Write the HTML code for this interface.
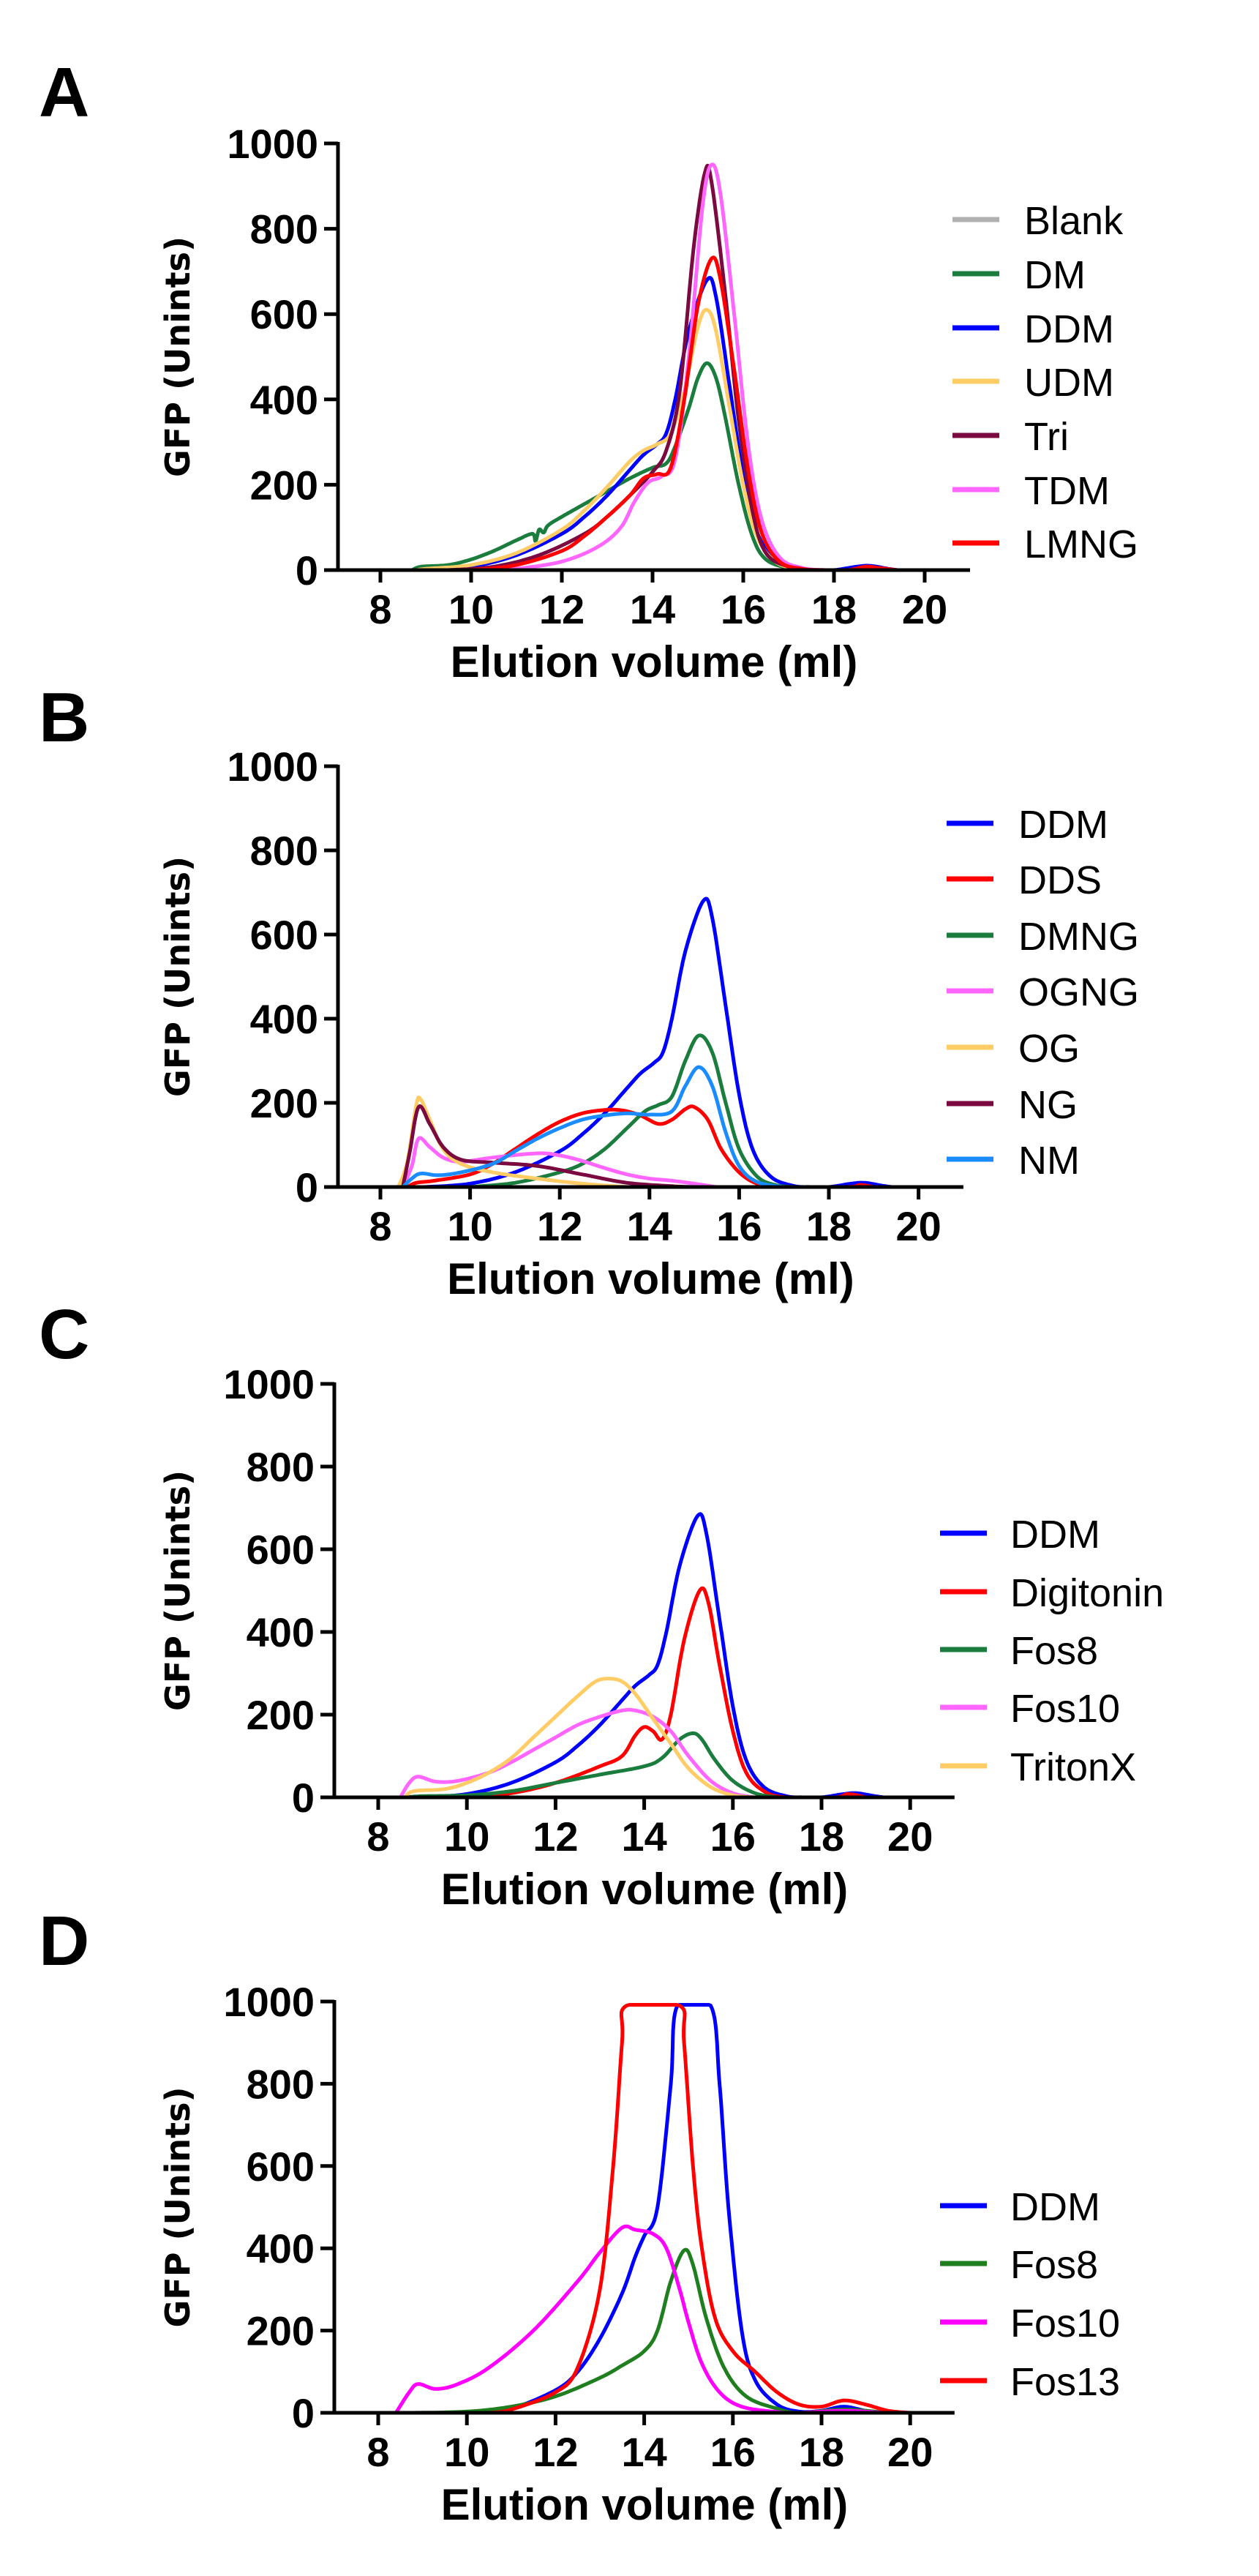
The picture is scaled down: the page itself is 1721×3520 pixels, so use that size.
<!DOCTYPE html>
<html><head><meta charset="utf-8">
<style>
html,body{margin:0;padding:0;background:#fff;}
svg{display:block;}
text{font-family:"Liberation Sans",Arial,sans-serif;}
</style></head>
<body>
<svg id="fig" width="1721" height="3520" viewBox="0 0 1721 3520" xmlns="http://www.w3.org/2000/svg"></svg>
<script>
// ---- data (ml, GFP units) ----
const xTicks = [8,10,12,14,16,18,20];
const yTicks = [0,200,400,600,800,1000];

const A_Blank = [[8.6,0],[12,0],[16,0],[19.3,0]];
const A_DM = [[8.7,0],[8.9,8],[9.5,12],[10,25],[10.5,45],[11,70],[11.35,85],[11.42,68],[11.5,95],[11.6,88],[11.7,105],[12,125],[12.5,155],[13,185],[13.5,215],[14,240],[14.3,250],[14.5,290],[14.8,380],[15,450],[15.2,485],[15.4,450],[15.6,360],[15.9,200],[16.2,80],[16.5,25],[17,5],[17.5,0]];
const A_DDM = [[9,0],[10,8],[11,35],[12,85],[12.5,125],[13,175],[13.5,235],[13.8,270],[14.1,295],[14.3,320],[14.5,400],[14.8,560],[15.2,680],[15.4,640],[15.7,430],[16,220],[16.3,90],[16.7,25],[17.2,3],[17.6,0],[18,0],[18.5,8],[18.8,10],[19.2,3],[19.4,0]];
const A_UDM = [[8.8,0],[9,3],[10,12],[11,40],[12,95],[12.5,140],[13,195],[13.5,255],[13.8,280],[14.1,295],[14.4,320],[14.7,420],[15,570],[15.2,610],[15.4,560],[15.7,380],[16,200],[16.3,80],[16.7,20],[17.2,3],[17.6,0]];
const A_Tri = [[9.5,0],[10.5,8],[11.5,35],[12.5,85],[13,125],[13.5,175],[14,230],[14.3,280],[14.6,420],[14.9,750],[15.15,930],[15.3,910],[15.6,650],[15.9,350],[16.2,140],[16.5,40],[17,8],[17.5,0]];
const A_TDM = [[10.5,0],[11,3],[12,20],[12.8,55],[13.3,100],[13.6,160],[13.9,205],[14.2,220],[14.5,260],[14.8,500],[15.1,850],[15.3,950],[15.5,880],[15.8,600],[16.1,300],[16.4,120],[16.8,30],[17.3,5],[17.8,0]];
const A_LMNG = [[10,0],[11,12],[12,45],[12.5,80],[13,125],[13.5,175],[13.8,215],[14.1,225],[14.4,240],[14.7,400],[15,620],[15.3,730],[15.5,680],[15.8,470],[16.1,240],[16.4,90],[16.8,20],[17.3,3],[17.8,0],[18.3,0],[18.7,8],[19,5],[19.4,0]];

const B_DDM = A_DDM;
const B_DDS = [[8.6,0],[8.8,10],[9.2,15],[10,30],[10.5,55],[11,90],[11.5,125],[12,155],[12.5,175],[13,183],[13.4,182],[13.8,170],[14.2,150],[14.5,160],[14.8,185],[15,190],[15.3,160],[15.6,90],[16,35],[16.4,8],[16.9,0],[18.4,0],[18.7,5],[19,0]];
const B_DMNG = [[10,0],[11,10],[12,35],[12.5,55],[13,90],[13.5,140],[13.9,180],[14.2,195],[14.5,215],[14.8,300],[15.1,360],[15.4,320],[15.7,200],[16,90],[16.4,25],[16.8,5],[17.2,0]];
const B_OGNG = [[8.5,0],[8.7,50],[8.85,115],[9.1,95],[9.4,70],[9.8,60],[10.5,70],[11.5,80],[12,75],[12.5,62],[13,45],[13.5,30],[14,20],[14.5,15],[15,8],[15.5,0]];
const B_OG = [[8.4,0],[8.6,60],[8.8,195],[8.9,208],[9.1,160],[9.4,90],[9.8,55],[10.5,35],[11.5,20],[12.5,8],[13.5,0]];
const B_NG = [[8.5,0],[8.65,80],[8.85,190],[9.1,150],[9.4,95],[9.8,65],[10.5,58],[11.5,50],[12.5,30],[13.5,10],[14.5,2],[15,0]];
const B_NM = [[8.5,0],[8.7,20],[8.9,32],[9.3,28],[9.8,35],[10.5,55],[11,85],[11.5,115],[12,140],[12.5,160],[13,170],[13.5,175],[14,172],[14.5,180],[14.8,240],[15.1,285],[15.4,240],[15.7,130],[16,50],[16.4,12],[17,0]];

const C_DDM = A_DDM;
const C_Digitonin = [[10,0],[11,10],[12,35],[13,75],[13.5,100],[13.8,150],[14,170],[14.2,160],[14.4,140],[14.6,200],[14.9,380],[15.25,500],[15.45,470],[15.7,320],[16,160],[16.3,60],[16.7,15],[17.2,0],[18.3,0],[18.6,8],[19,0]];
const C_Fos8 = [[8.6,0],[9,3],[10,5],[11,15],[12,35],[13,55],[14,75],[14.4,95],[14.8,140],[15.1,155],[15.3,140],[15.6,90],[16,40],[16.5,10],[17,0]];
const C_Fos10 = [[8.5,0],[8.7,35],[8.9,50],[9.3,38],[9.8,40],[10.5,60],[11,85],[11.5,115],[12,145],[12.5,175],[13,195],[13.5,210],[13.8,210],[14.2,195],[14.6,160],[15,100],[15.5,40],[16,10],[16.5,0]];
const C_TritonX = [[8.6,0],[8.8,15],[9.5,20],[10,35],[10.5,60],[11,95],[11.5,145],[12,195],[12.5,245],[12.9,280],[13.2,287],[13.5,280],[13.8,250],[14.2,190],[14.6,130],[15,70],[15.5,25],[16,5],[16.5,0]];

const D_DDM = [[10.2,0],[11,10],[12,55],[12.5,100],[13,180],[13.5,290],[13.8,380],[14,430],[14.3,500],[14.6,800],[14.75,990],[15.5,990],[15.7,800],[15.9,500],[16.2,200],[16.5,80],[17,20],[17.5,3],[18,5],[18.5,15],[19,5],[19.5,0]];
const D_Fos8 = [[8.8,0],[10,3],[11,15],[12,40],[13,85],[13.5,115],[14,150],[14.3,200],[14.6,320],[14.9,395],[15.1,360],[15.4,230],[15.8,110],[16.3,40],[17,10],[17.5,0],[18.5,8],[19.5,0]];
const D_Fos10 = [[8.4,0],[8.7,50],[8.9,70],[9.3,58],[9.8,70],[10.5,110],[11.5,200],[12.5,320],[13,390],[13.5,450],[13.8,445],[14.2,435],[14.5,400],[14.8,300],[15,220],[15.3,120],[15.7,50],[16.2,15],[17,2],[17.5,0],[18.5,5],[19.5,0],[20.5,0]];
const D_Fos13 = [[10.5,0],[11,8],[12,50],[12.5,110],[13,300],[13.3,600],[13.5,900],[13.6,990],[14.8,990],[14.9,900],[15.1,600],[15.3,400],[15.6,230],[16,150],[16.5,100],[17,50],[17.5,20],[18,15],[18.5,30],[19,20],[19.5,5],[20,0]];

const A_names = ["Blank","DM","DDM","UDM","Tri","TDM","LMNG"];
const B_names = ["DDM","DDS","DMNG","OGNG","OG","NG","NM"];
const C_names = ["DDM","Digitonin","Fos8","Fos10","TritonX"];
const D_names = ["DDM","Fos8","Fos10","Fos13"];

// ---- layout ----
const NS="http://www.w3.org/2000/svg";
const svg=document.getElementById('fig');
function mk(tag,attrs,parent){const e=document.createElementNS(NS,tag);for(const k in attrs)e.setAttribute(k,attrs[k]);(parent||svg).appendChild(e);return e;}

const panels=[
 {id:'a',letter:'A',lb:159,y0:779,y1k:196,ax:462,x8:520,ppm:62,legX:1302,legT:1400,legY:[300,374,448,521,595,669,742],
  names:A_names,series:[A_Blank,A_DM,A_DDM,A_UDM,A_Tri,A_TDM,A_LMNG],colors:["#b0b0b0","#1b7d3d","#0000ff","#ffcc66","#7a0a40","#ff66ff","#ff0000"]},
 {id:'b',letter:'B',lb:1013,y0:1622,y1k:1047,ax:462,x8:520,ppm:61.3,legX:1294,legT:1392,legY:[1125,1201,1278,1354,1431,1508,1584],
  names:B_names,series:[B_DDM,B_DDS,B_DMNG,B_OGNG,B_OG,B_NG,B_NM],colors:["#0000ff","#ff0000","#1b7d3d","#ff66ff","#ffcc66","#7a0a40","#1a8cff"]},
 {id:'c',letter:'C',lb:1856,y0:2456,y1k:1891,ax:457,x8:517,ppm:60.6,legX:1285,legT:1381,legY:[2095,2175,2254,2333,2413],
  names:C_names,series:[C_DDM,C_Digitonin,C_Fos8,C_Fos10,C_TritonX],colors:["#0000ff","#ff0000","#1b7d3d","#ff66ff","#ffcc66"]},
 {id:'d',letter:'D',lb:2685,y0:3297,y1k:2735,ax:457,x8:517,ppm:60.6,legX:1285,legT:1381,legY:[3014,3093,3173,3253],
  names:D_names,series:[D_DDM,D_Fos8,D_Fos10,D_Fos13],colors:["#0000ff","#1f7f1f","#ff00ff","#ff0000"]}
];

function spline(pts,X,Y){
  const out=[];
  for(let i=0;i<pts.length-1;i++){
    const p0=pts[Math.max(0,i-1)],p1=pts[i],p2=pts[i+1],p3=pts[Math.min(pts.length-1,i+2)];
    for(let s=0;s<12;s++){
      const t=s/12,t2=t*t,t3=t2*t;
      const f=(a,b,c,d)=>0.5*((2*b)+(-a+c)*t+(2*a-5*b+4*c-d)*t2+(-a+3*b-3*c+d)*t3);
      let x=f(p0[0],p1[0],p2[0],p3[0]);let y=f(p0[1],p1[1],p2[1],p3[1]);
      y=Math.max(0,Math.min(992,y));
      out.push(X(x).toFixed(1)+','+Y(y).toFixed(1));
    }
  }
  const l=pts[pts.length-1];out.push(X(l[0]).toFixed(1)+','+Y(l[1]).toFixed(1));
  return out.join(' ');
}

panels.forEach(p=>{
  const X=v=>p.x8+(v-8)*p.ppm;
  const Y=v=>p.y0-(v/1000)*(p.y0-p.y1k);
  const g=mk('g',{});
  
  
  const lab=mk('text',{x:53,y:p.lb,'font-size':96,'font-weight':'bold',fill:'#000'},g);
  
  
  lab.textContent=p.letter;

  // series
  p.series.forEach((s,i)=>{
    const pl=mk('polyline',{points:spline(s,X,Y),fill:'none',stroke:p.colors[i],'stroke-width':5,'stroke-linejoin':'round','stroke-linecap':'round'},g);
    
    
  });

  // axes
  const ya=mk('line',{x1:p.ax,y1:p.y1k-2,x2:p.ax,y2:p.y0+2,stroke:'#000','stroke-width':5},g);
  
  
  const xa=mk('line',{x1:p.ax-19,y1:p.y0,x2:X(21),y2:p.y0,stroke:'#000','stroke-width':5},g);
  
  
  yTicks.forEach(v=>{
    mk('line',{x1:p.ax-19,y1:Y(v),x2:p.ax,y2:Y(v),stroke:'#000','stroke-width':5},g);
    const t=mk('text',{x:p.ax-27,y:Y(v)+20,'font-size':56,'font-weight':'bold','text-anchor':'end'},g);
    
    
    t.textContent=v;
  });
  xTicks.forEach(v=>{
    mk('line',{x1:X(v),y1:p.y0,x2:X(v),y2:p.y0+17,stroke:'#000','stroke-width':5},g);
    const t=mk('text',{x:X(v),y:p.y0+73,'font-size':56,'font-weight':'bold','text-anchor':'middle'},g);
    
    
    t.textContent=v;
  });
  const xt=mk('text',{x:(p.ax+X(21))/2,y:p.y0+146,'font-size':60,'font-weight':'bold','text-anchor':'middle'},g);
  
  
  xt.textContent='Elution volume (ml)';
  const cy=(p.y0+p.y1k)/2;
  const yt=mk('text',{x:0,y:0,'font-size':46,'font-weight':'bold','text-anchor':'middle',transform:'translate(259,'+cy+') rotate(-90)',style:'font-family:"DejaVu Sans",Verdana,sans-serif'},g);
  
  
  yt.textContent='GFP (Unints)';

  // legend
  p.names.forEach((n,i)=>{
    const lg=mk('g',{},g);
    
    
    mk('line',{x1:p.legX,y1:p.legY[i],x2:p.legX+64,y2:p.legY[i],stroke:p.colors[i],'stroke-width':7},lg);
    const t=mk('text',{x:p.legT,y:p.legY[i]+20,'font-size':54},lg);
    t.textContent=n;
  });
});
</script>
</body></html>
